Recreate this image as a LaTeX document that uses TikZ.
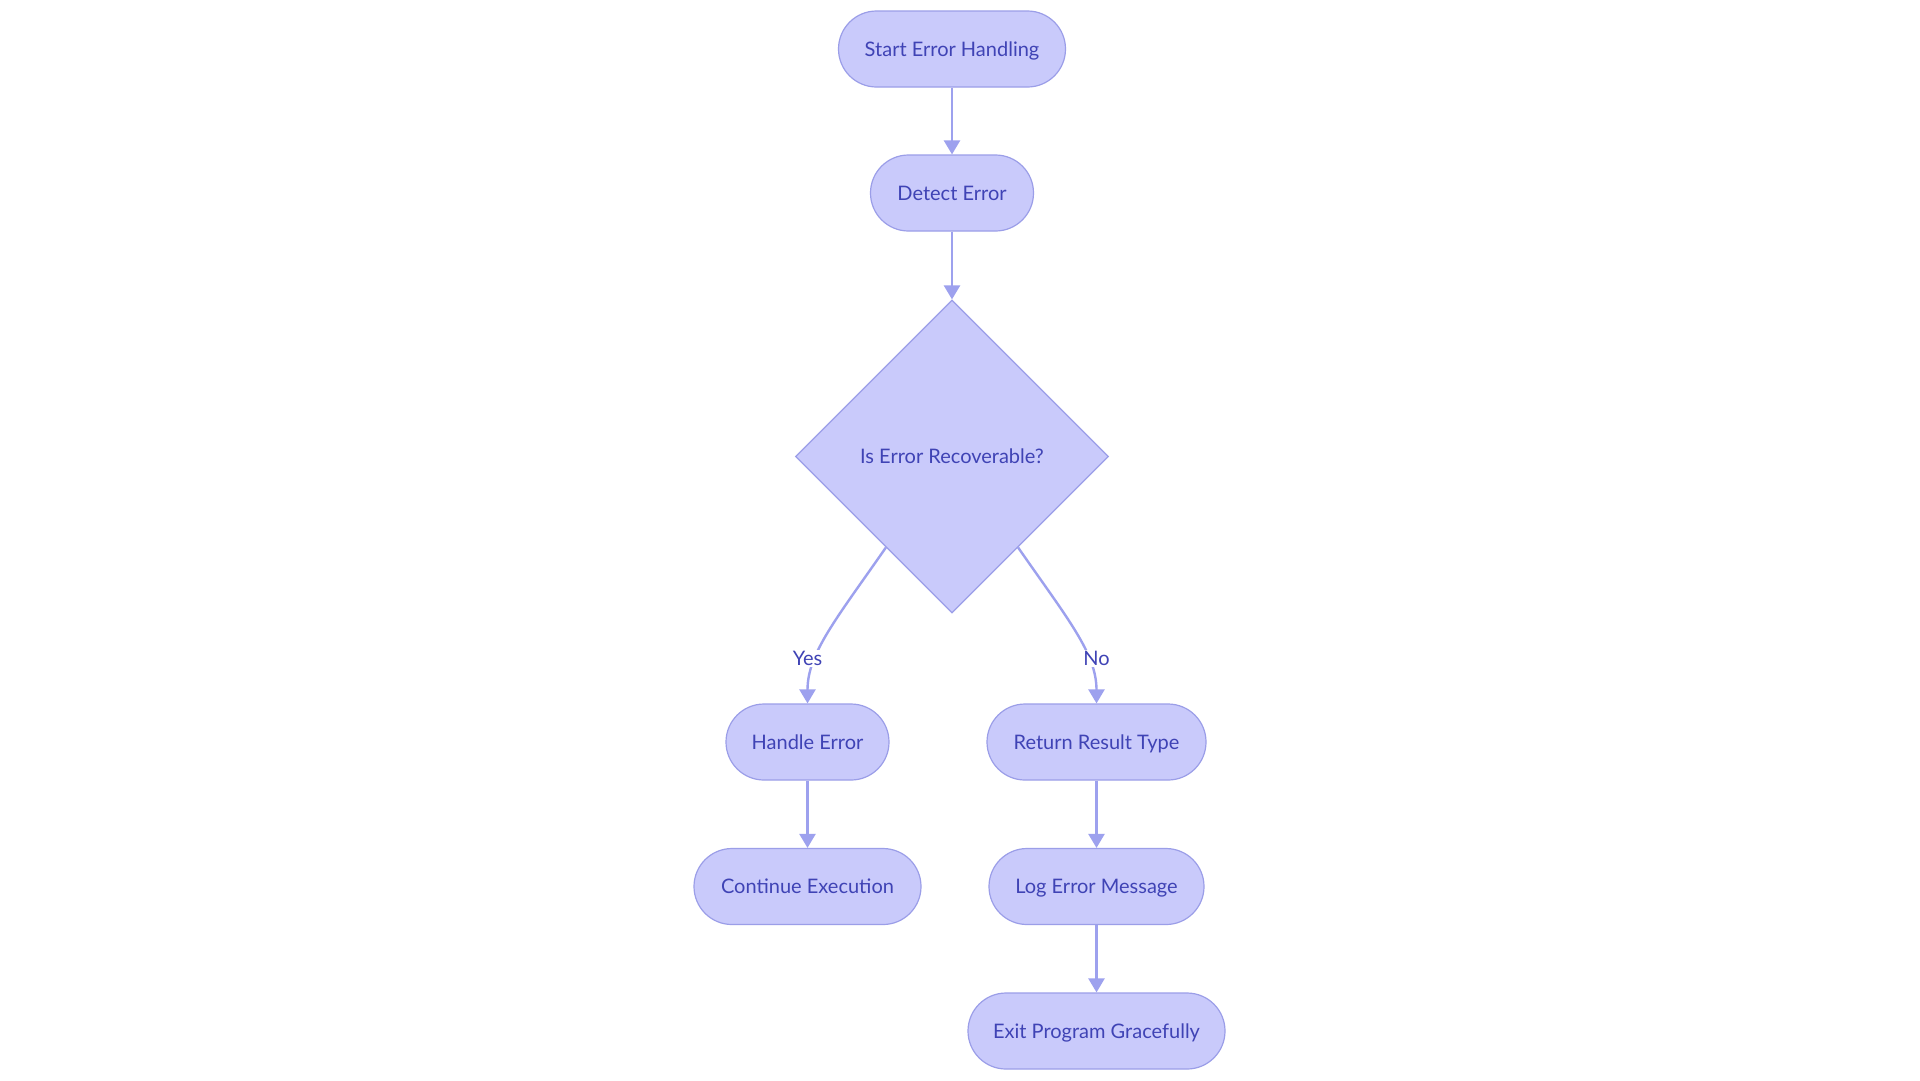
\documentclass[tikz,border=0pt]{standalone}
\usepackage{fontspec}
\setmainfont{Lato}
\usetikzlibrary{shapes.geometric,arrows.meta}
\definecolor{nodefill}{HTML}{C9CAFB}
\definecolor{nodedraw}{HTML}{9B9EE8}
\definecolor{nodetext}{HTML}{3F43B5}
\definecolor{edgecol}{HTML}{9DA1EE}
\tikzset{
  pill/.style={draw=nodedraw, fill=nodefill, line width=1.2pt, rounded corners=38pt,
    minimum height=76pt, inner sep=0pt, text=nodetext, text height=14pt, text depth=0pt,
    font=\fontsize{20}{24}\selectfont},
  decision/.style={draw=nodedraw, fill=nodefill, line width=1.2pt, diamond, aspect=1,
    minimum width=313pt, minimum height=313pt, inner sep=0pt, text=nodetext,
    text height=14pt, text depth=0pt, font=\fontsize{20}{24}\selectfont},
  flow/.style={draw=edgecol, line width=2.4pt, -{Triangle[width=16pt,length=14pt]}},
  lbl/.style={fill=white, text=nodetext, inner sep=1.5pt, text height=14pt, text depth=0pt,
    font=\fontsize{20}{24}\selectfont}
}
\begin{document}
\begin{tikzpicture}[x=1pt,y=-1pt]
\useasboundingbox[fill=white] (0,0) rectangle (1920,1080);
\node[pill, minimum width=227pt] (start) at (952,49) {Start Error Handling};
\node[pill, minimum width=163pt] (detect) at (952,193) {Detect Error};
\node[decision] (dec) at (952,456.5) {Is Error Recoverable?};
\node[pill, minimum width=163pt] (handle) at (807.5,742) {Handle Error};
\node[pill, minimum width=227pt] (cont) at (807.5,886.5) {Continue Execution};
\node[pill, minimum width=219pt] (ret) at (1096.5,742) {Return Result Type};
\node[pill, minimum width=215pt] (log) at (1096.5,886.5) {Log Error Message};
\node[pill, minimum width=257pt] (exit) at (1096.5,1031) {Exit Program Gracefully};

\draw[flow] (start) -- (detect);
\draw[flow] (detect) -- (dec);
\draw[flow] (dec.234) .. controls +(-50,72) and +(0,-50) .. (handle.north);
\draw[flow] (dec.306) .. controls +(50,72) and +(0,-50) .. (ret.north);
\draw[flow] (handle) -- (cont);
\draw[flow] (ret) -- (log);
\draw[flow] (log) -- (exit);
\node[lbl] (yes) at (807.5,658) {Yes};
\node[lbl] (no) at (1096.5,658) {No};
\end{tikzpicture}
\end{document}
